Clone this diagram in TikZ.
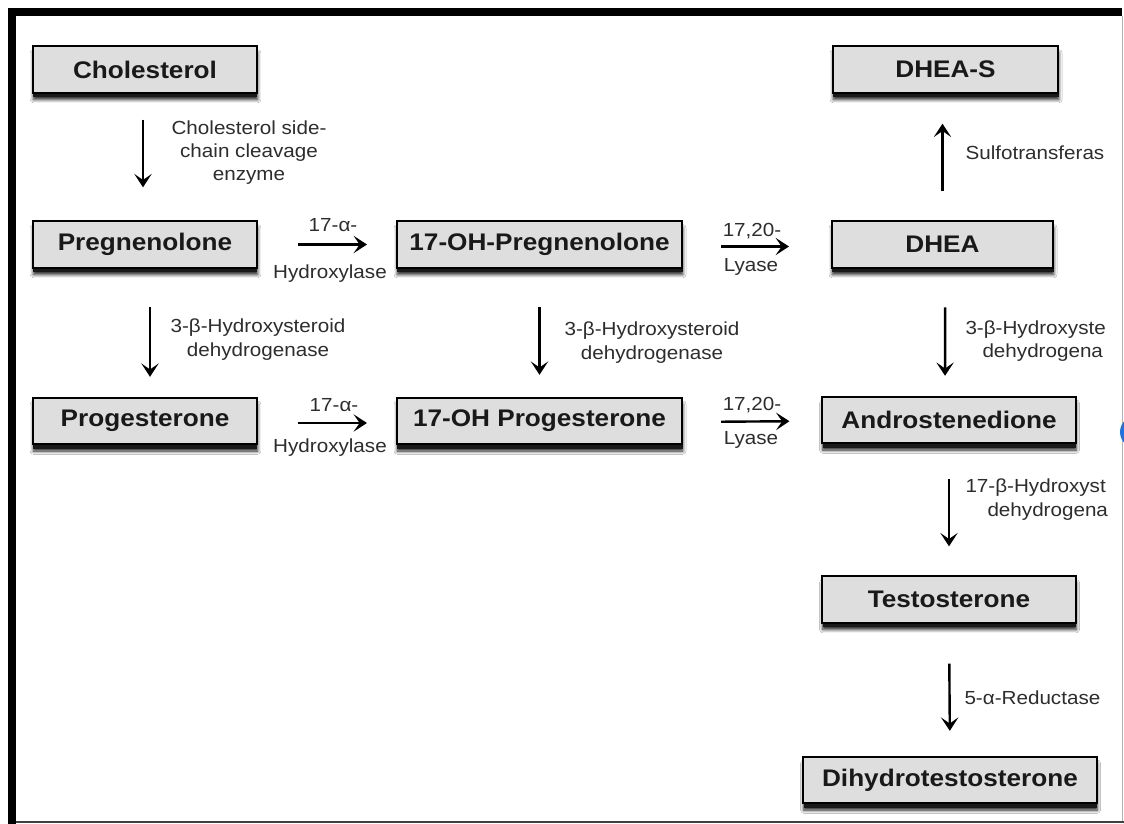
\documentclass[tikz,border=0pt]{standalone}
\usepackage{fontspec}
\setmainfont{Liberation Sans}[FakeStretch=1.09]
\usetikzlibrary{arrows.meta,shadows,shadows.blur}

\definecolor{boxgray}{RGB}{222,222,222}
\definecolor{inkgray}{RGB}{45,45,45}
\definecolor{dotblue}{RGB}{26,115,232}

\tikzset{every picture/.style={line width=0.75pt}}
\tikzset{
  enzbox/.style={draw=black, fill=boxgray, line width=1.3pt, minimum height=35pt,
    inner sep=0pt, text=black!90, font=\fontsize{18}{21.6}\selectfont\bfseries,
    blur shadow={shadow xshift=0.4pt, shadow yshift=-5pt, shadow blur radius=2.5pt, shadow opacity=90, shadow blur steps=6},
    drop shadow={shadow xshift=0.3pt, shadow yshift=-3.2pt, fill=black!90, opacity=1}},
  enzlabel/.style={inner sep=0pt, text=inkgray, align=center, font=\fontsize{14.2}{18}\selectfont},
  flow/.style={draw=black, line width=1.8pt, -{Stealth[length=10pt,width=13pt,inset=4.5pt]}}
}

\begin{document}
\begin{tikzpicture}[x=0.75pt,y=-0.75pt]
\clip (0,0) rectangle (1124,824);
\fill[white] (0,0) rectangle (1124,824);

%Frame
\fill[black] (8,8) rectangle (1122,16);
\fill[black] (8,8) rectangle (16,824);
\draw[black!75, line width=1.5pt] (16,821.5) -- (1124,821.5);
\draw[black!30, line width=0.75pt] (1122,16) -- (1122,821);
\fill[dotblue] (1136,432) circle (16);

% Boxes
\node (chol) at (145,69.5) [enzbox, minimum width=168pt] {Cholesterol};
\node (preg) at (145,244.5) [enzbox, minimum width=168pt] {Pregnenolone};
\node (prog) at (145,421) [enzbox, minimum width=168pt] {Progesterone};
\node (ohpreg) at (539.5,244.5) [enzbox, minimum width=214pt] {17-OH-Pregnenolone};
\node (ohprog) at (539.5,421) [enzbox, minimum width=214pt] {17-OH Progesterone};
\node (dheas) at (945.5,69.5) [enzbox, minimum width=169pt] {DHEA-S};
\node (dhea) at (942.5,244.5) [enzbox, minimum width=166pt] {DHEA};
\node (andro) at (949,420) [enzbox, minimum width=190pt] {Androstenedione};
\node (testo) at (949,599.5) [enzbox, minimum width=190pt] {Testosterone};
\node (dht) at (950,780) [enzbox, minimum width=220pt] {Dihydrotestosterone};

% Arrows
\draw[flow, shorten <=19.5pt, shorten >=24.75pt] ([xshift=-1.5pt]chol.south) -- ([xshift=-1.5pt]preg.north);
\draw[flow, shorten <=29pt, shorten >=15pt] ([xshift=3.75pt]preg.south) -- ([xshift=3.75pt]prog.north);
\draw[flow, shorten <=30pt, shorten >=21.75pt] (preg.east) -- (ohpreg.west);
\draw[flow, shorten <=30pt, shorten >=21.75pt] ([yshift=-1.5pt]prog.east) -- ([yshift=-1.5pt]ohprog.west);
\draw[flow, shorten <=29pt, shorten >=16.5pt] (ohpreg.south) -- (ohprog.north);
\draw[flow, shorten <=28.5pt, shorten >=31.5pt] ([yshift=-1.5pt]ohpreg.east) -- ([yshift=-1.5pt]dhea.west);
\draw[flow, shorten <=28.5pt, shorten >=24pt] ([yshift=-0.75pt]ohprog.east) -- ([yshift=-0.75pt]andro.west);
\draw[flow, shorten <=21.75pt, shorten >=22.5pt] (dhea.north) -- ([xshift=-2.25pt]dheas.south);
\draw[flow, shorten <=29pt, shorten >=15pt] ([xshift=2pt]dhea.south) -- ([xshift=-3pt]andro.north);
\draw[flow, shorten <=26pt, shorten >=21.75pt] (andro.south) -- (testo.north);
\draw[flow, shorten <=30pt, shorten >=18.75pt] (testo.south) -- (dht.north);

% Text Node
\node (sccl) at (249,153) [enzlabel, font=\fontsize{14.2}{17.25}\selectfont] {Cholesterol side-\\chain cleavage\\enzyme};
% Text Node
\node (hsdone) at (258,339.5) [enzlabel] {3-β-Hydroxysteroid\\dehydrogenase};
% Text Node
\node (hsdtwo) at (652,342.5) [enzlabel] {3-β-Hydroxysteroid\\dehydrogenase};
% Text Node
\node (hydaone) at (333,225) [enzlabel] {17-α-};
\node (hydbone) at (330,274) [enzlabel] {Hydroxylase};
% Text Node
\node (hydatwo) at (334,405) [enzlabel] {17-α-};
\node (hydbtwo) at (330,448) [enzlabel] {Hydroxylase};
% Text Node
\node (lyaone) at (752,231) [enzlabel] {17,20-};
\node (lybone) at (751,267) [enzlabel] {Lyase};
% Text Node
\node (lyatwo) at (752,405) [enzlabel] {17,20-};
\node (lybtwo) at (751,440) [enzlabel] {Lyase};
% Text Node
\node (sulfo) at (965,153) [enzlabel, anchor=west] {Sulfotransferas};
% Text Node
\node (hsdthra) at (965,330) [enzlabel, anchor=west] {3-β-Hydroxyste};
\node (hsdthrb) at (982,353) [enzlabel, anchor=west] {dehydrogena};
% Text Node
\node (hsdfoa) at (965,488) [enzlabel, anchor=west] {17-β-Hydroxyst};
\node (hsdfob) at (987,512) [enzlabel, anchor=west] {dehydrogena};
% Text Node
\node (redu) at (964,698) [enzlabel, anchor=west] {5-α-Reductase};

\end{tikzpicture}
\end{document}
